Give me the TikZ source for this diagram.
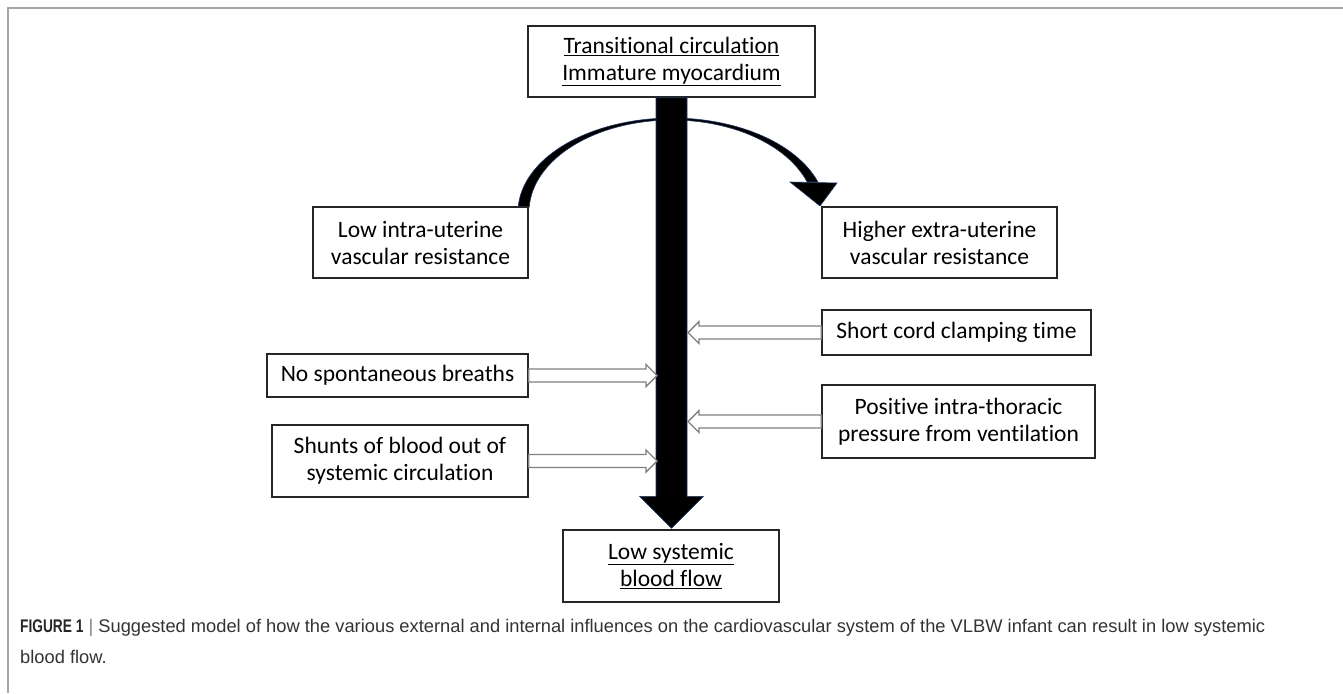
\documentclass[tikz,border=0pt]{standalone}
\usepackage{fontspec}
\setmainfont{Carlito}[Ligatures=NoCommon]
\newfontfamily\capfont{Liberation Sans}
\newfontfamily\capnarrow[FakeStretch=0.75]{Liberation Sans}
\usetikzlibrary{calc}

\definecolor{framegray}{HTML}{A6A6A6}
\definecolor{arrowgray}{HTML}{808080}
\definecolor{edgeblue}{HTML}{1F3864}
\definecolor{captext}{HTML}{333333}

\tikzset{
  box/.style={draw=black!85, line width=1.4pt, fill=white, align=center,
    inner sep=0pt, font=\fontsize{23.5}{27}\selectfont},
  hollowline/.style={draw=arrowgray, line width=1.4pt, fill=white, line join=miter},
  bigarrow/.style={fill=black, draw=edgeblue, line width=0.6pt},
}

% block arrow with an open head, from #1 to #2 (horizontal)
\newcommand{\hollowarrow}[2]{%
  \filldraw[hollowline] let \p1=(#1), \p2=(#2), \n1={sign(\x2-\x1)} in
    (\x1,\y1+6.5pt) -- ({\x2-\n1*11pt},\y1+6.5pt) -- ({\x2-\n1*11pt},\y1+11pt)
    -- (\x2,\y1) -- ({\x2-\n1*11pt},\y1-11pt) -- ({\x2-\n1*11pt},\y1-6.5pt)
    -- (\x1,\y1-6.5pt) -- cycle;}

\begin{document}
\begin{tikzpicture}[x=1pt,y=-1pt]
  \useasboundingbox (0,0) rectangle (1343,693);

  % figure frame
  \draw[framegray, line width=1.5pt] (8,693) -- (8,8) -- (1343,8);

  % curved arrow behind the main one
  \filldraw[bigarrow]
    plot[domain=177:18.6, samples=60, variable=\t] ({672+154*cos(\t)},{212-94*sin(\t)})
    -- plot[domain=19:176.9, samples=60, variable=\t] ({672+143*cos(\t)},{212-92*sin(\t)})
    -- cycle;
  \filldraw[bigarrow] (790,182) -- (837,183) -- (820,206) -- cycle;

  \begin{scope}[every node/.style={box}]
    \node[minimum width=287, minimum height=71] (trans) at (671.5,61.5)
      {\underline{Transitional circulation}\\\underline{Immature myocardium}};
    \node[minimum width=215, minimum height=71] (lowres) at (420.5,242.5)
      {Low intra-uterine\\vascular resistance};
    \node[minimum width=235, minimum height=71] (highres) at (939.5,242.5)
      {Higher extra-uterine\\vascular resistance};
    \node[minimum width=269, minimum height=45] (cord) at (956.5,332.5)
      {Short cord clamping time};
    \node[minimum width=261, minimum height=43] (breath) at (397.5,375.5)
      {No spontaneous breaths};
    \node[minimum width=273, minimum height=73] (ventil) at (958.5,421.5)
      {Positive intra-thoracic\\pressure from ventilation};
    \node[minimum width=256, minimum height=72] (shunt) at (400,461)
      {Shunts of blood out of\\systemic circulation};
    \node[minimum width=216, minimum height=72] (flow) at (671,566)
      {\underline{Low systemic}\\\underline{blood flow}};
  \end{scope}

  % main arrow
  \filldraw[bigarrow] let \p1=(trans.south), \p2=(flow.north) in
    (\x1-15.5pt,\y1) -- (\x1-15.5pt,\y2+33pt) -- (\x1-32pt,\y2+33pt) -- (\x1,\y2+1pt)
    -- (\x1+32pt,\y2+33pt) -- (\x1+15.5pt,\y2+33pt) -- (\x1+15.5pt,\y1) -- cycle;

  \coordinate (shaftL) at (657,0);
  \coordinate (shaftR) at (688,0);

  \hollowarrow{breath.east}{breath.east -| shaftL}
  \hollowarrow{shunt.east}{shunt.east -| shaftL}
  \hollowarrow{cord.west}{cord.west -| shaftR}
  \hollowarrow{ventil.west}{ventil.west -| shaftR}

  % caption
  \begin{scope}[every node/.style={anchor=base west, inner sep=0pt, text=captext,
      font=\capfont\fontsize{18.3}{22}\selectfont}]
    \node (cap1) at (20,632) {{\capnarrow\bfseries\color{black!85}FIGURE 1} {\color{gray}|} Suggested model of how the various external and internal influences on the cardiovascular system of the VLBW infant can result in low systemic};
    \node (cap2) at (20,663) {blood flow.};
  \end{scope}
\end{tikzpicture}
\end{document}
